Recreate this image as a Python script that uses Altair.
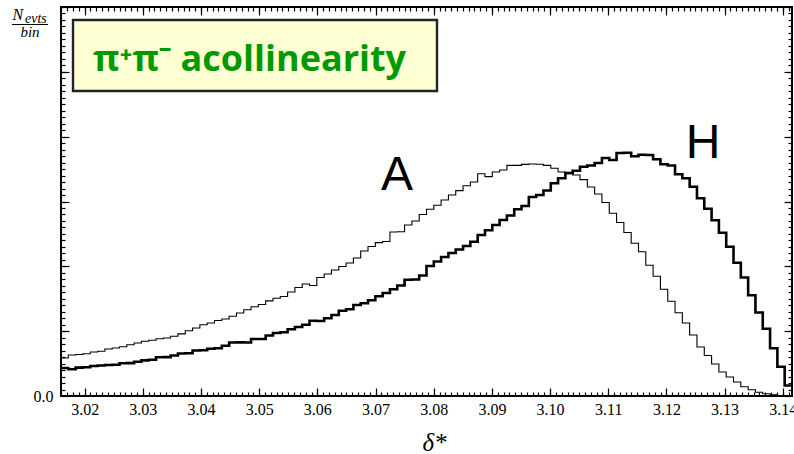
import math

import altair as alt
import numpy as np
import pandas as pd

# Histogram range: 0.96*pi .. pi, 100 equal bins
X_LO = 0.96 * math.pi
X_HI = math.pi
N_BINS = 100

# Bin contents (arbitrary units, one major y tick = 1)
counts_a = [
    0.586, 0.632, 0.639, 0.652, 0.679, 0.691, 0.725, 0.740, 0.760, 0.790,
    0.818, 0.844, 0.861, 0.882, 0.895, 0.921, 0.959, 1.006, 1.049, 1.100,
    1.126, 1.165, 1.188, 1.229, 1.280, 1.331, 1.377, 1.411, 1.468, 1.507,
    1.535, 1.604, 1.674, 1.728, 1.704, 1.828, 1.882, 1.944, 1.998, 2.052,
    2.129, 2.237, 2.306, 2.365, 2.383, 2.530, 2.534, 2.638, 2.699, 2.800,
    2.881, 2.942, 3.023, 3.100, 3.167, 3.242, 3.301, 3.429, 3.384, 3.455,
    3.486, 3.557, 3.557, 3.572, 3.578, 3.575, 3.557, 3.512, 3.455, 3.429,
    3.409, 3.338, 3.224, 3.116, 2.985, 2.818, 2.676, 2.522, 2.355, 2.226,
    2.016, 1.848, 1.646, 1.461, 1.285, 1.126, 0.941, 0.756, 0.625, 0.494,
    0.370, 0.293, 0.216, 0.143, 0.097, 0.059, 0.035, 0.020, 0.006, 0.002,
]
counts_h = [
    0.432, 0.413, 0.437, 0.444, 0.463, 0.470, 0.478, 0.481, 0.504, 0.507,
    0.529, 0.549, 0.560, 0.597, 0.600, 0.625, 0.656, 0.659, 0.702, 0.705,
    0.728, 0.736, 0.774, 0.825, 0.827, 0.826, 0.879, 0.880, 0.933, 0.972,
    0.984, 1.030, 1.064, 1.100, 1.161, 1.157, 1.199, 1.249, 1.314, 1.337,
    1.404, 1.430, 1.476, 1.538, 1.589, 1.647, 1.704, 1.794, 1.797, 1.859,
    2.005, 2.075, 2.144, 2.206, 2.260, 2.314, 2.380, 2.483, 2.556, 2.638,
    2.715, 2.784, 2.881, 2.931, 3.070, 3.100, 3.170, 3.281, 3.358, 3.440,
    3.475, 3.537, 3.555, 3.594, 3.671, 3.640, 3.748, 3.751, 3.697, 3.722,
    3.717, 3.651, 3.575, 3.555, 3.420, 3.358, 3.228, 3.049, 2.889, 2.710,
    2.519, 2.303, 2.056, 1.828, 1.553, 1.288, 1.038, 0.736, 0.452, 0.162,
]

# Tick positions
x_major = [3.02, 3.03, 3.04, 3.05, 3.06, 3.07, 3.08, 3.09, 3.10, 3.11, 3.12, 3.13, 3.14]
x_minor = [round(3.016 + 0.001 * i, 3) for i in range(126)]
y_major = [0, 1, 2, 3, 4, 5, 6]
y_minor = [round(0.1 * i, 1) for i in range(1, 60)]

# Curve labels (anchor in data units)
curve_labels = ["A", "H"]
curve_label_x = [3.0737, 3.1263]
curve_label_y = [3.178, 3.671]

edges = np.linspace(X_LO, X_HI, N_BINS + 1)


def step_frame(counts):
    # left bin edges plus the closing right edge
    return pd.DataFrame({"x": edges, "n": list(counts) + [counts[-1]]})


df_a = step_frame(counts_a)
df_h = step_frame(counts_h)
df_lab_a = pd.DataFrame({"x": curve_label_x[:1], "n": curve_label_y[:1], "t": curve_labels[:1]})
df_lab_h = pd.DataFrame({"x": curve_label_x[1:], "n": curve_label_y[1:], "t": curve_labels[1:]})

W, H = 731, 389
MAJ, MIN = 8, 4
SERIF = "Liberation Serif"

xscale = alt.Scale(domain=[X_LO, X_HI], nice=False, zero=False)
yscale = alt.Scale(domain=[0, 6], nice=False, zero=True)

common = dict(domain=False, grid=False, tickColor="black", tickWidth=1.2,
              labelFlush=False, labelOverlap=False, title="")


def make_axis(orient, values, size, **kw):
    # ticks drawn inside the frame: the axis is pulled in by its own tick length
    opts = dict(common)
    opts.update(kw)
    if "labels" not in opts:
        opts["labels"] = False
    return alt.Axis(orient=orient, values=values, tickSize=size, offset=-size, **opts)


xb_major = make_axis(
    "bottom", x_major, MAJ, labels=True, format=".2f", labelPadding=5,
    labelFont=SERIF, labelFontSize=16, labelColor="black",
    title="δ*", titleFont=SERIF, titleFontStyle="italic", titleFontWeight="normal",
    titleFontSize=25, titleColor="black", titleX=373, titleY=62,
    titleAlign="center", titleBaseline="alphabetic",
)
yl_major = make_axis(
    "left", y_major, MAJ, labels=True, labelPadding=8,
    labelExpr="datum.value == 0 ? '0.0' : ''",
    labelFont=SERIF, labelFontSize=16, labelColor="black",
)

line_a = alt.Chart(df_a).mark_line(interpolate="step-after", color="black",
                                   strokeWidth=1.1, clip=True).encode(
    x=alt.X("x:Q", scale=xscale, axis=xb_major),
    y=alt.Y("n:Q", scale=yscale, axis=yl_major),
)
line_h = alt.Chart(df_h).mark_line(interpolate="step-after", color="black",
                                   strokeWidth=2.6, clip=True).encode(
    x=alt.X("x:Q", scale=xscale, axis=make_axis("bottom", x_minor, MIN)),
    y=alt.Y("n:Q", scale=yscale, axis=make_axis("left", y_minor, MIN)),
)

label_style = dict(font="Liberation Sans", fontSize=48, color="black",
                   align="center", baseline="alphabetic")
text_a = alt.Chart(df_lab_a).mark_text(**label_style).encode(
    x=alt.X("x:Q", scale=xscale, axis=make_axis("top", x_major, MAJ)),
    y=alt.Y("n:Q", scale=yscale, axis=make_axis("right", y_major, MAJ)),
    text="t:N",
)
text_h = alt.Chart(df_lab_h).mark_text(**label_style).encode(
    x=alt.X("x:Q", scale=xscale, axis=make_axis("top", x_minor, MIN)),
    y=alt.Y("n:Q", scale=yscale, axis=make_axis("right", y_minor, MIN)),
    text="t:N",
)

# Title box in the upper-left corner
box = alt.Chart(pd.DataFrame({"k": [0]})).mark_rect(
    fill="#ffffd4", stroke="#222222", strokeWidth=2.4
).encode(x=alt.value(12), x2=alt.value(376), y=alt.value(13), y2=alt.value(84))
box_text = alt.Chart(pd.DataFrame({"k": [0]})).mark_text(
    text="π⁺π⁻ acollinearity", font="Open Sans", fontWeight="bold", fontSize=36,
    color="#009a00", align="left", baseline="alphabetic"
).encode(x=alt.value(32), y=alt.value(64))

# y-axis title drawn as a fraction N_evts / bin
frac_style = dict(font=SERIF, fontStyle="italic", color="black", baseline="alphabetic")
t_n = alt.Chart(pd.DataFrame({"k": [0]})).mark_text(
    text="N", fontSize=16, align="left", **frac_style
).encode(x=alt.value(-48.5), y=alt.value(13))
t_evts = alt.Chart(pd.DataFrame({"k": [0]})).mark_text(
    text="evts", fontSize=14, align="left", **frac_style
).encode(x=alt.value(-36), y=alt.value(16))
t_bin = alt.Chart(pd.DataFrame({"k": [0]})).mark_text(
    text="bin", fontSize=15, align="center", **frac_style
).encode(x=alt.value(-31), y=alt.value(29.5))
t_bar = alt.Chart(pd.DataFrame({"k": [0]})).mark_rule(color="black", strokeWidth=1).encode(
    x=alt.value(-49), x2=alt.value(-13), y=alt.value(17.5)
)

chart = (
    alt.layer(line_a, line_h, text_a, text_h, box, box_text, t_n, t_evts, t_bin, t_bar)
    .resolve_axis(x="independent", y="independent")
    .properties(
        width=W, height=H,
        autosize=alt.AutoSizeParams(type="none"),
        padding={"left": 61, "top": 7, "right": 2, "bottom": 58},
        background="white",
    )
    .configure_axis(labelFont=SERIF, titleFont=SERIF, labelFontSize=16, labelColor="black")
    .configure_view(stroke="black", strokeWidth=2)
)

chart.save("out.html", embed_options={"renderer": "svg", "actions": False})
